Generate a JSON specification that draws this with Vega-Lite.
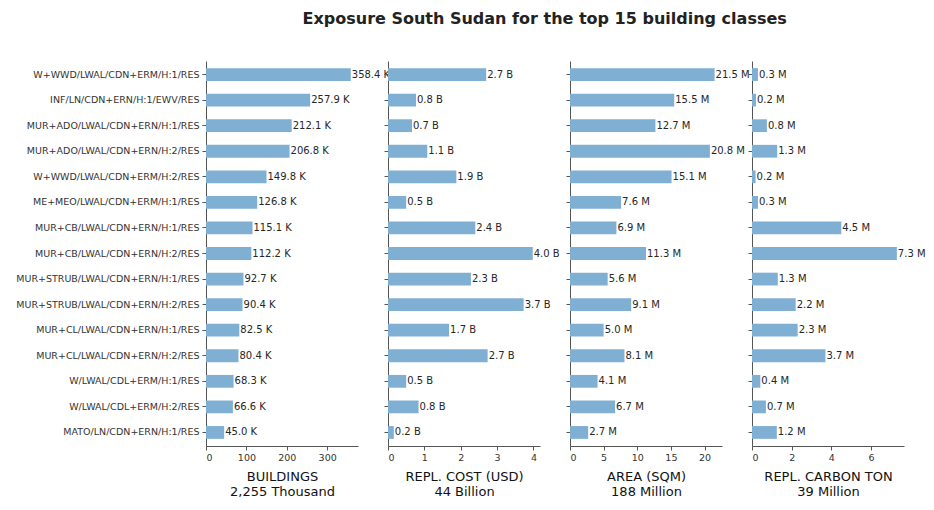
{
  "$schema": "https://vega.github.io/schema/vega-lite/v6.json",
  "padding": {"left": 15, "top": 11, "right": 5, "bottom": 5},
  "title": {"text": "Exposure South Sudan for the top 15 building classes", "fontSize": 16, "font": "DejaVu Sans", "fontWeight": "bold", "color": "#222", "anchor": "middle", "offset": 34, "dx": 74},
  "datasets": {
    "d": [
      {"cls": "W+WWD/LWAL/CDN+ERM/H:1/RES", "buildings": 358.4, "bl": "358.4 K", "cost": 2.7, "cl": "2.7 B", "area": 21.5, "al": "21.5 M", "carbon": 0.3, "ol": "0.3 M"},
      {"cls": "INF/LN/CDN+ERN/H:1/EWV/RES", "buildings": 257.9, "bl": "257.9 K", "cost": 0.77, "cl": "0.8 B", "area": 15.5, "al": "15.5 M", "carbon": 0.2, "ol": "0.2 M"},
      {"cls": "MUR+ADO/LWAL/CDN+ERN/H:1/RES", "buildings": 212.1, "bl": "212.1 K", "cost": 0.66, "cl": "0.7 B", "area": 12.7, "al": "12.7 M", "carbon": 0.75, "ol": "0.8 M"},
      {"cls": "MUR+ADO/LWAL/CDN+ERN/H:2/RES", "buildings": 206.8, "bl": "206.8 K", "cost": 1.08, "cl": "1.1 B", "area": 20.8, "al": "20.8 M", "carbon": 1.27, "ol": "1.3 M"},
      {"cls": "W+WWD/LWAL/CDN+ERM/H:2/RES", "buildings": 149.8, "bl": "149.8 K", "cost": 1.88, "cl": "1.9 B", "area": 15.1, "al": "15.1 M", "carbon": 0.18, "ol": "0.2 M"},
      {"cls": "ME+MEO/LWAL/CDN+ERM/H:1/RES", "buildings": 126.8, "bl": "126.8 K", "cost": 0.5, "cl": "0.5 B", "area": 7.6, "al": "7.6 M", "carbon": 0.3, "ol": "0.3 M"},
      {"cls": "MUR+CB/LWAL/CDN+ERN/H:1/RES", "buildings": 115.1, "bl": "115.1 K", "cost": 2.4, "cl": "2.4 B", "area": 6.9, "al": "6.9 M", "carbon": 4.5, "ol": "4.5 M"},
      {"cls": "MUR+CB/LWAL/CDN+ERN/H:2/RES", "buildings": 112.2, "bl": "112.2 K", "cost": 3.98, "cl": "4.0 B", "area": 11.3, "al": "11.3 M", "carbon": 7.3, "ol": "7.3 M"},
      {"cls": "MUR+STRUB/LWAL/CDN+ERN/H:1/RES", "buildings": 92.7, "bl": "92.7 K", "cost": 2.28, "cl": "2.3 B", "area": 5.6, "al": "5.6 M", "carbon": 1.3, "ol": "1.3 M"},
      {"cls": "MUR+STRUB/LWAL/CDN+ERN/H:2/RES", "buildings": 90.4, "bl": "90.4 K", "cost": 3.73, "cl": "3.7 B", "area": 9.1, "al": "9.1 M", "carbon": 2.2, "ol": "2.2 M"},
      {"cls": "MUR+CL/LWAL/CDN+ERN/H:1/RES", "buildings": 82.5, "bl": "82.5 K", "cost": 1.68, "cl": "1.7 B", "area": 5.0, "al": "5.0 M", "carbon": 2.3, "ol": "2.3 M"},
      {"cls": "MUR+CL/LWAL/CDN+ERN/H:2/RES", "buildings": 80.4, "bl": "80.4 K", "cost": 2.74, "cl": "2.7 B", "area": 8.1, "al": "8.1 M", "carbon": 3.7, "ol": "3.7 M"},
      {"cls": "W/LWAL/CDL+ERM/H:1/RES", "buildings": 68.3, "bl": "68.3 K", "cost": 0.5, "cl": "0.5 B", "area": 4.1, "al": "4.1 M", "carbon": 0.42, "ol": "0.4 M"},
      {"cls": "W/LWAL/CDL+ERM/H:2/RES", "buildings": 66.6, "bl": "66.6 K", "cost": 0.84, "cl": "0.8 B", "area": 6.7, "al": "6.7 M", "carbon": 0.7, "ol": "0.7 M"},
      {"cls": "MATO/LN/CDN+ERN/H:1/RES", "buildings": 45.0, "bl": "45.0 K", "cost": 0.16, "cl": "0.2 B", "area": 2.7, "al": "2.7 M", "carbon": 1.25, "ol": "1.2 M"}
    ]
  },
  "data": {"name": "d"},
  "spacing": 30,
  "bounds": "flush",
  "config": {
    "font": "DejaVu Sans",
    "view": {"stroke": null},
    "axis": {"grid": false, "domainColor": "#555", "tickColor": "#555", "labelColor": "#333", "labelFontSize": 9.5, "labelFont": "DejaVu Sans", "tickSize": 4, "titleFont": "DejaVu Sans", "titleFontSize": 13, "titleFontWeight": "normal", "titleColor": "#111", "labelLimit": 400},
    "scale": {"bandPaddingInner": 0.5, "bandPaddingOuter": 0.28},
    "text": {"font": "DejaVu Sans", "fontSize": 10, "color": "#262626", "align": "left", "baseline": "middle", "dx": 1},
    "bar": {"color": "#7fafd3"}
  },
  "hconcat": [
    {
      "width": 152, "height": 385,
      "encoding": {
        "y": {"field": "cls", "type": "nominal", "sort": null, "axis": {"title": null, "labelFontSize": 9.5, "labelPadding": 3}},
        "x": {"field": "buildings", "type": "quantitative", "scale": {"domain": [0, 376.3], "nice": false}, "axis": {"values": [0, 100, 200, 300], "title": ["BUILDINGS", "2,255 Thousand"], "titlePadding": 9}}
      },
      "layer": [
        {"mark": "bar"},
        {"mark": "text", "encoding": {"text": {"field": "bl"}}}
      ]
    },
    {
      "width": 152, "height": 385,
      "encoding": {
        "y": {"field": "cls", "type": "nominal", "sort": null, "axis": {"title": null, "labels": false}},
        "x": {"field": "cost", "type": "quantitative", "scale": {"domain": [0, 4.18], "nice": false}, "axis": {"values": [0, 1, 2, 3, 4], "title": ["REPL. COST (USD)", "44 Billion"], "titlePadding": 9}}
      },
      "layer": [
        {"mark": "bar"},
        {"mark": "text", "encoding": {"text": {"field": "cl"}}}
      ]
    },
    {
      "width": 152, "height": 385,
      "encoding": {
        "y": {"field": "cls", "type": "nominal", "sort": null, "axis": {"title": null, "labels": false}},
        "x": {"field": "area", "type": "quantitative", "scale": {"domain": [0, 22.6], "nice": false}, "axis": {"values": [0, 5, 10, 15, 20], "title": ["AREA (SQM)", "188 Million"], "titlePadding": 9}}
      },
      "layer": [
        {"mark": "bar"},
        {"mark": "text", "encoding": {"text": {"field": "al"}}}
      ]
    },
    {
      "width": 152, "height": 385,
      "encoding": {
        "y": {"field": "cls", "type": "nominal", "sort": null, "axis": {"title": null, "labels": false}},
        "x": {"field": "carbon", "type": "quantitative", "scale": {"domain": [0, 7.66], "nice": false}, "axis": {"values": [0, 2, 4, 6], "title": ["REPL. CARBON TON", "39 Million"], "titlePadding": 9}}
      },
      "layer": [
        {"mark": "bar"},
        {"mark": "text", "encoding": {"text": {"field": "ol"}}}
      ]
    }
  ]
}
